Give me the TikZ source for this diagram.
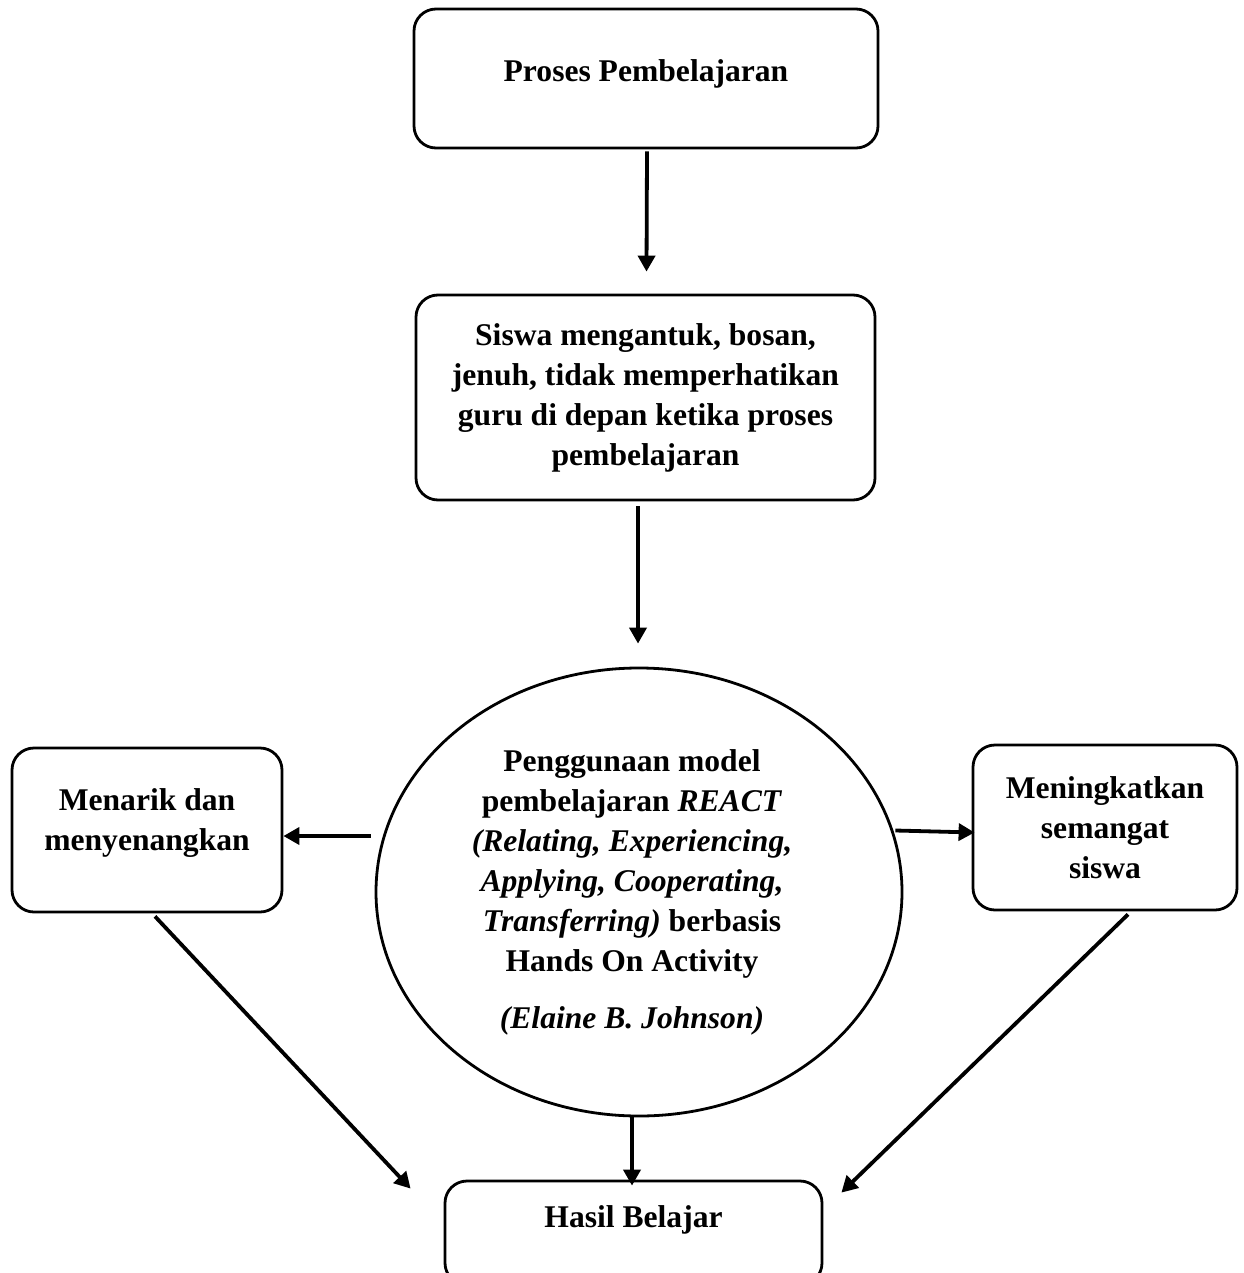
\documentclass[tikz,border=0pt]{standalone}
\usepackage{fontspec}
\setmainfont{Liberation Serif}
\usetikzlibrary{arrows.meta,shapes.geometric}
\tikzset{
  boxstyle/.style={draw, line width=1.4pt, rounded corners=11pt, align=center, inner sep=0pt},
  ovalstyle/.style={draw, line width=1.4pt, ellipse, inner sep=0pt},
  txt/.style={align=center, inner sep=0pt},
  arr/.style={line width=1.9pt, -{Triangle[length=8pt,width=8.5pt]}},
}
\begin{document}
\begin{tikzpicture}[x=0.5pt,y=-0.5pt,font=\fontsize{15.8}{20}\selectfont\bfseries]
\useasboundingbox (0,0) rectangle (1243,1273);
\clip (0,0) rectangle (1243,1273);
\fill[white] (0,0) rectangle (1243,1273);

\node[boxstyle, minimum width=232pt, minimum height=69.5pt, text depth=8pt] (top) at (646,78.5) {Proses Pembelajaran};
\node[boxstyle, minimum width=229.5pt, minimum height=102.5pt] (box2) at (645.5,397.5)
  {Siswa mengantuk, bosan,\\ jenuh, tidak memperhatikan\\ guru di depan ketika proses\\ pembelajaran};
\node[ovalstyle, minimum width=263pt, minimum height=224pt] (e) at (639,892) {};
\node[txt] (etext) at (632,892)
  {Penggunaan model\\ pembelajaran \textit{REACT}\\ \textit{(Relating, Experiencing,}\\ \textit{Applying, Cooperating,}\\ \textit{Transferring)} berbasis\\ Hands On Activity\\[8.5pt] \textit{(Elaine B. Johnson)}};
\node[boxstyle, minimum width=135pt, minimum height=82pt, text depth=10pt] (left) at (147,830) {Menarik dan\\ menyenangkan};
\node[boxstyle, minimum width=132pt, minimum height=82.5pt] (right) at (1105,827.5) {Meningkatkan\\ semangat\\ siswa};
\node[boxstyle, minimum width=188.5pt, minimum height=52pt, text depth=16pt] (bottom) at (633.5,1233) {Hasil Belajar};

\draw[arr] ([xshift=0.5pt,yshift=-1pt]top.south) -- ([xshift=0.5pt,yshift=11pt]box2.north);
\draw[arr] ([xshift=-3.75pt,yshift=-2.5pt]box2.south) -- ([xshift=-0.5pt,yshift=11.5pt]e.north);
\draw[arr] ([shift={(-2pt,-3pt)}]e.west |- left.east) -- ([yshift=-3pt]left.east);
\draw[arr] ([shift={(-4pt,-1.5pt)}]e.east |- right.west) -- ([shift={(1.5pt,-2.5pt)}]right.west);
\draw[arr] ([xshift=-3.5pt]e.south) -- ([xshift=-0.75pt,yshift=-3pt]bottom.north);
\draw[arr] ([shift={(4pt,-1.5pt)}]left.south) -- ([shift={(-16.5pt,-4.5pt)}]bottom.north west);
\draw[arr] ([shift={(11.5pt,-1.5pt)}]right.south) -- ([shift={(9pt,-6.5pt)}]bottom.north east);
\end{tikzpicture}
\end{document}
